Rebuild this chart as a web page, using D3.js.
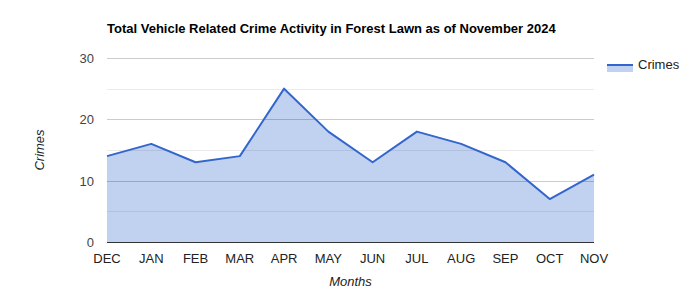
<!DOCTYPE html>
<html>
<head>
<meta charset="utf-8">
<script src="https://cdn.jsdelivr.net/npm/d3@7"></script>
<style>
  body { margin: 0; background: #fff; }
  text { font-family: "Liberation Sans", Arial, sans-serif; }
</style>
</head>
<body>
<div id="chart"></div>
<script>
const months = ['DEC', 'JAN', 'FEB', 'MAR', 'APR', 'MAY', 'JUN', 'JUL', 'AUG', 'SEP', 'OCT', 'NOV'];
const crimes = [14, 16, 13, 14, 25, 18, 13, 18, 16, 13, 7, 11];
const yTicks = [0, 10, 20, 30];
const yMinor = [5, 15, 25];

const width = 700, height = 300;
const margin = { left: 107, right: 106, top: 58, bottom: 58 };

const svg = d3.select('#chart').append('svg')
    .attr('width', width)
    .attr('height', height);

const x = d3.scalePoint().domain(months).range([margin.left, width - margin.right]);
const y = d3.scaleLinear().domain([0, 30]).range([height - margin.bottom, margin.top]);

// Area first, gridlines drawn translucently on top so they show through the fill
const area = d3.area()
    .x((d, i) => x(months[i]))
    .y0(y(0))
    .y1(d => y(d));
const line = d3.line()
    .x((d, i) => x(months[i]))
    .y(d => y(d));

svg.append('path')
    .datum(crimes)
    .attr('d', area)
    .attr('fill', '#3366cc')
    .attr('fill-opacity', 0.3);

svg.append('g').selectAll('line')
    .data(yMinor.concat(yTicks.filter(d => d > 0)))
    .join('line')
    .attr('x1', margin.left).attr('x2', width - margin.right)
    .attr('y1', d => Math.round(y(d)) + 0.5).attr('y2', d => Math.round(y(d)) + 0.5)
    .attr('stroke', '#000')
    .attr('stroke-opacity', d => yMinor.includes(d) ? 0.08 : 0.2);

svg.append('path')
    .datum(crimes)
    .attr('d', line)
    .attr('fill', 'none')
    .attr('stroke', '#3366cc')
    .attr('stroke-width', 2)
    .attr('stroke-linejoin', 'round');

// Baseline
svg.append('line')
    .attr('x1', margin.left).attr('x2', width - margin.right)
    .attr('y1', Math.round(y(0)) + 0.5).attr('y2', Math.round(y(0)) + 0.5)
    .attr('stroke', '#333');

// Y tick labels
svg.append('g').selectAll('text')
    .data(yTicks)
    .join('text')
    .attr('x', margin.left - 13)
    .attr('y', d => y(d) + 5)
    .attr('text-anchor', 'end')
    .attr('font-size', 13)
    .attr('fill', '#444')
    .text(d => d);

// X tick labels
svg.append('g').selectAll('text')
    .data(months)
    .join('text')
    .attr('x', d => x(d))
    .attr('y', 263)
    .attr('text-anchor', 'middle')
    .attr('font-size', 13)
    .attr('fill', '#222')
    .text(d => d);

// Axis titles
svg.append('text')
    .attr('x', (margin.left + width - margin.right) / 2)
    .attr('y', 286)
    .attr('text-anchor', 'middle')
    .attr('font-size', 13)
    .attr('font-style', 'italic')
    .attr('fill', '#222')
    .text('Months');

svg.append('text')
    .attr('transform', `translate(44,${(margin.top + height - margin.bottom) / 2}) rotate(-90)`)
    .attr('text-anchor', 'middle')
    .attr('font-size', 13)
    .attr('font-style', 'italic')
    .attr('fill', '#222')
    .text('Crimes');

// Title
svg.append('text')
    .attr('x', margin.left)
    .attr('y', 33)
    .attr('font-size', 13)
    .attr('font-weight', 'bold')
    .attr('fill', '#000')
    .text('Total Vehicle Related Crime Activity in Forest Lawn as of November 2024');

// Legend
const lg = svg.append('g').attr('transform', 'translate(607,58)');
lg.append('rect').attr('x', 0).attr('y', 6).attr('width', 26).attr('height', 8)
    .attr('fill', '#3366cc').attr('fill-opacity', 0.3);
lg.append('line').attr('x1', 0).attr('x2', 26).attr('y1', 7).attr('y2', 7)
    .attr('stroke', '#3366cc').attr('stroke-width', 2);
lg.append('text').attr('x', 31).attr('y', 11).attr('font-size', 13).attr('fill', '#222').text('Crimes');
</script>
</body>
</html>
